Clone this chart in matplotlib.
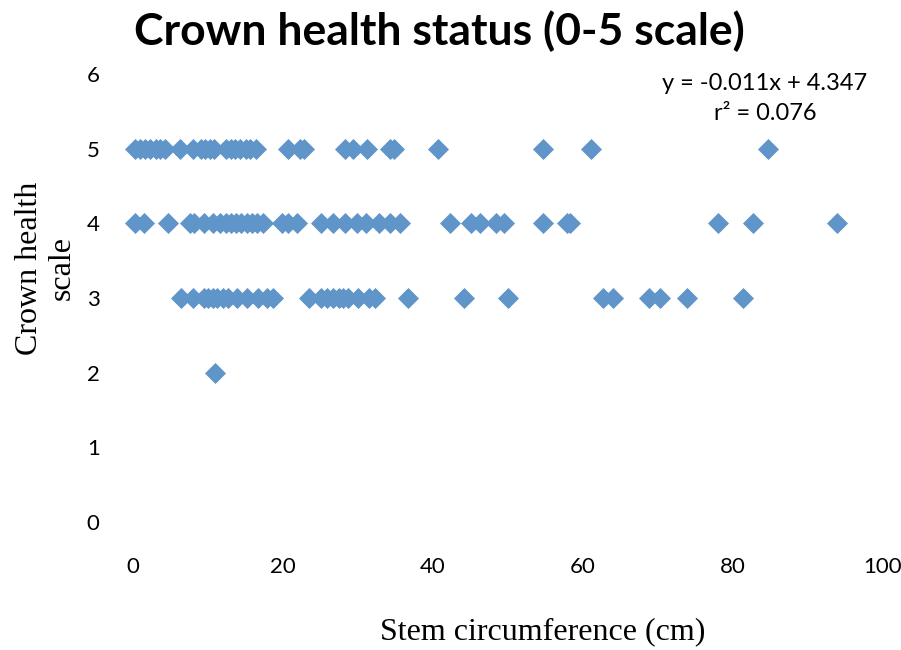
import matplotlib.pyplot as plt

# Stem circumference (cm) grouped by crown health score
x_score5 = [0.2, 0.9, 1.6, 2.3, 3.0, 3.6, 4.3, 6.3, 8.0, 9.0, 9.6, 10.2, 10.8,
            12.4, 13.0, 13.6, 14.3, 15.0, 15.6, 16.4, 20.6, 22.2, 22.8,
            28.2, 29.3, 31.2, 34.3, 34.8, 40.6, 54.7, 61.1, 84.6]
x_score4 = [0.3, 1.5, 4.7, 7.6, 8.1, 9.4, 10.6, 11.6, 12.4, 13.0, 13.7, 14.4,
            15.2, 15.9, 16.5, 17.3, 19.9, 20.6, 21.9, 25.1, 26.6, 28.3, 29.8,
            31.1, 32.8, 34.3, 35.6, 42.2, 45.1, 46.2, 48.4, 49.4, 54.6, 57.9,
            58.2, 78.0, 82.7, 93.8]
x_score3 = [6.4, 8.0, 9.5, 10.0, 10.6, 11.2, 12.0, 12.6, 13.8, 15.2, 16.6,
            17.8, 18.7, 23.5, 25.0, 25.8, 26.6, 27.4, 28.0, 28.6, 30.0, 31.4,
            32.3, 36.6, 44.1, 50.0, 62.6, 64.0, 68.8, 70.3, 73.8, 81.3]
x_score2 = [10.9]

scores = [5, 4, 3, 2]
groups = [x_score5, x_score4, x_score3, x_score2]

xs, ys = [], []
for s, g in zip(scores, groups):
    xs += g
    ys += [s] * len(g)

fig = plt.figure(figsize=(9.01, 6.5), dpi=100)
ax = fig.add_axes([133 / 901, 128 / 650, 750 / 901, 448 / 650])

ax.scatter(xs, ys, marker='D', s=115, color='#5F95C8', linewidths=0,
           clip_on=False, zorder=3)

ax.set_xlim(0, 100)
ax.set_ylim(0, 6)
ax.set_xticks(range(0, 101, 20))
ax.set_yticks(range(0, 7))
for sp in ax.spines.values():
    sp.set_visible(False)
ax.tick_params(length=0, labelsize=16)
ax.tick_params(axis='x', pad=25)
ax.tick_params(axis='y', pad=24)
for lab in ax.get_xticklabels() + ax.get_yticklabels():
    lab.set_family('Lato')

fig.text(439 / 901, 1 - 31 / 650, 'Crown health status (0-5 scale)',
         ha='center', va='center', fontsize=32, fontweight='bold',
         family='Lato')

fig.text(543 / 901, 1 - 632 / 650, 'Stem circumference (cm)',
         ha='center', va='center', family='Liberation Serif', fontsize=23)
fig.text(46 / 901, 1 - 268 / 650, 'Crown health\nscale', rotation=90,
         ha='center', va='center', family='Liberation Serif', fontsize=23,
         multialignment='center', linespacing=1.15)

fig.text(765 / 901, 1 - 84 / 650, 'y = -0.011x + 4.347', ha='center',
         va='center', family='Lato', fontsize=17)
fig.text(765 / 901, 1 - 113 / 650, 'r² = 0.076', ha='center', va='center',
         family='Lato', fontsize=17)

fig.savefig('out.png', dpi=100)
